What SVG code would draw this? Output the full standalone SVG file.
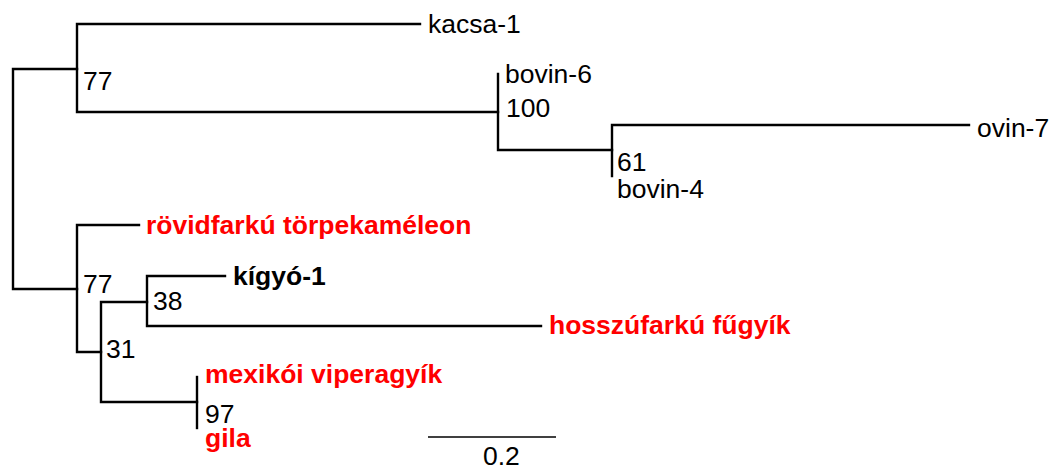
<svg xmlns="http://www.w3.org/2000/svg" width="1058" height="470" viewBox="0 0 1058 470">
<style>
.br{fill:none;stroke:#000;stroke-width:2.4;stroke-linecap:square}
text{font-family:"Liberation Sans",Arial,sans-serif;font-size:26.5px;fill:#000}
.b{font-weight:bold}
.r{fill:#ff0000}
</style>
<rect width="1058" height="470" fill="#fff"/>
<g id="connectors">
<path class="br" d="M13,69V289M13,69H77M13,289H77"/>
<path class="br" d="M77,24V112M77,24H420M77,112H498"/>
<path class="br" d="M498,74V150M498,150H612"/>
<path class="br" d="M612,125V176M612,125H969"/>
<path class="br" d="M77,225V352M77,225H139M77,352H101"/>
<path class="br" d="M101,302V402M101,302H147M101,402H197"/>
<path class="br" d="M147,276V326M147,276H225M147,326H541"/>
<path class="br" d="M197,377V428"/>
<path d="M428,437H556" stroke="#000" stroke-width="1.3" fill="none"/>
</g>
<g id="kacsa-1"><text x="428" y="33">kacsa-1</text></g>
<g id="bovin-6"><text x="505" y="83">bovin-6</text></g>
<g id="ovin-7"><text x="977" y="137">ovin-7</text></g>
<g id="bovin-4"><text x="617" y="198">bovin-4</text></g>
<g id="rovidfarku"><text class="b r" x="146" y="234">rövidfarkú törpekaméleon</text></g>
<g id="kigyo-1"><text class="b" x="233" y="285">kígyó-1</text></g>
<g id="hosszufarku"><text class="b r" x="549" y="334">hosszúfarkú fűgyík</text></g>
<g id="mexikoi"><text class="b r" x="205" y="383">mexikói viperagyík</text></g>
<g id="gila"><text class="b r" x="205" y="447">gila</text></g>
<g id="support">
<text x="83" y="90">77</text>
<text x="506" y="117">100</text>
<text x="617" y="171">61</text>
<text x="83" y="293">77</text>
<text x="153" y="310">38</text>
<text x="106" y="358">31</text>
<text x="205" y="423">97</text>
</g>
<g id="scale"><text x="483" y="465">0.2</text></g>
</svg>
